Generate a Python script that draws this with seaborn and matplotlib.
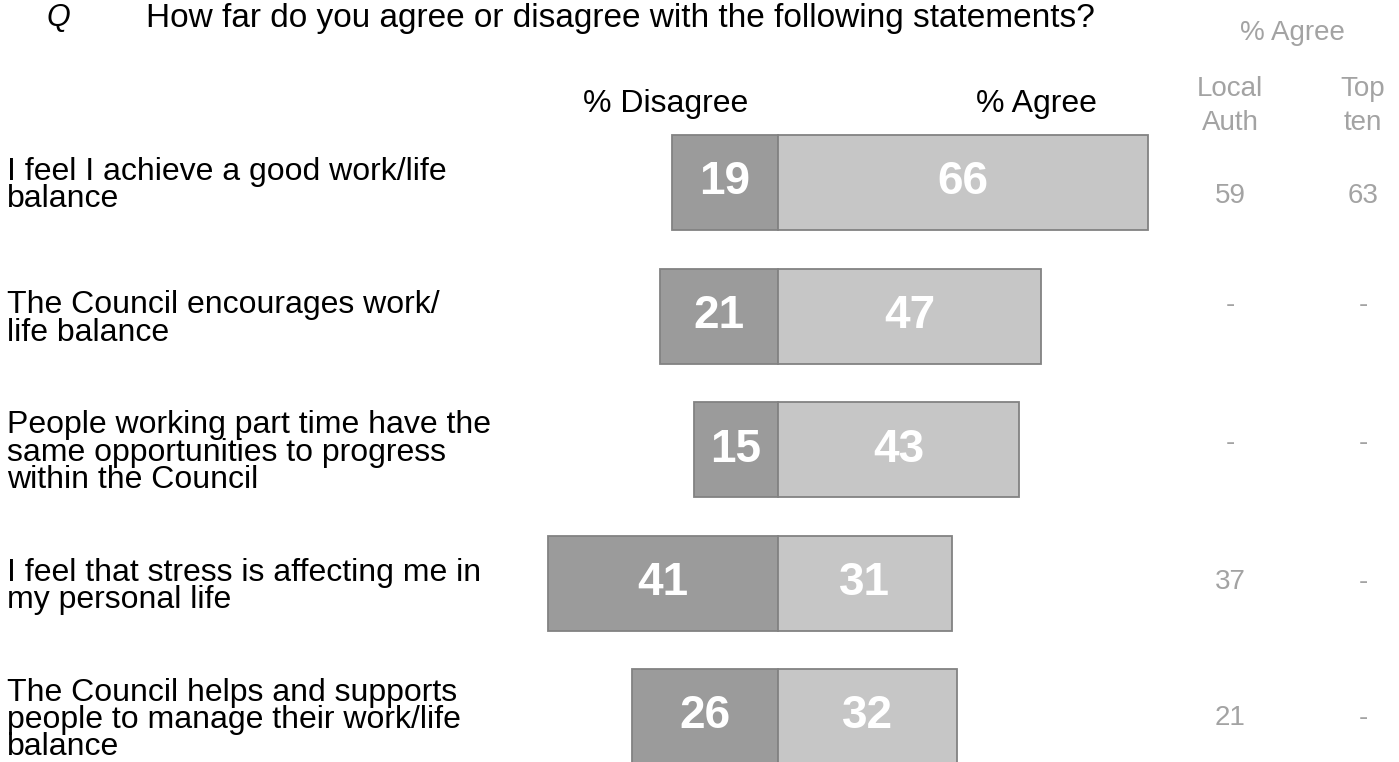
import pandas as pd
import numpy as np
import matplotlib
matplotlib.use("Agg")
import matplotlib.pyplot as plt
import seaborn as sns

statements = [
    "I feel I achieve a good work/life\nbalance",
    "The Council encourages work/\nlife balance",
    "People working part time have the\nsame opportunities to progress\nwithin the Council",
    "I feel that stress is affecting me in\nmy personal life",
    "The Council helps and supports\npeople to manage their work/life\nbalance",
]
disagree = [19, 21, 15, 41, 26]
agree = [66, 47, 43, 31, 32]
local_auth = ["59", "-", "-", "37", "21"]
top_ten = ["63", "-", "-", "-", "-"]

DARK = "#9b9b9b"
LIGHT = "#c6c6c6"
EDGE = "#828282"
GREY_TXT = "#a3a3a3"

sns.set_style("white")
plt.rcParams["font.family"] = ["Liberation Sans", "DejaVu Sans"]
plt.rcParams["text.color"] = "black"

W, H = 1399, 762
fig = plt.figure(figsize=(W / 100, H / 100), dpi=100)
ax = fig.add_axes([0, 0, 1, 1])

df = pd.DataFrame({
    "statement": statements * 2,
    "value": [-d for d in disagree] + agree,
    "side": ["Disagree"] * len(statements) + ["Agree"] * len(statements),
})

sns.barplot(
    data=df, x="value", y="statement", hue="side", orient="h",
    palette={"Disagree": DARK, "Agree": LIGHT}, dodge=False, width=0.71,
    edgecolor=EDGE, linewidth=1.3, legend=False, ax=ax,
)

# numbers inside the bars
for cont, vals in zip(ax.containers, [disagree, agree]):
    ax.bar_label(cont, labels=[str(v) for v in vals], label_type="center",
                 color="white", fontsize=33, fontweight="bold")

# scales chosen so 1 point = 5.6 px, zero line at x=778 px
px_per_unit = 5.6
center_px = 778
ax.set_xlim(-center_px / px_per_unit, (W - center_px) / px_per_unit)
row0, row_gap = 182.5, 133.6
ax.set_ylim((H - row0) / row_gap, -row0 / row_gap)
ax.axis("off")

ytr = ax.get_yaxis_transform()
label_shift = 3 / row_gap
for i, s in enumerate(statements):
    ax.text(7 / W, i + label_shift, s, transform=ytr, ha="left", va="center",
            fontsize=23, linespacing=0.88)


def fy(py):
    return 1 - py / H


# comparison columns sit on their own table rows
side_rows_px = [196, 305, 443, 582, 718]
for la, tt, py in zip(local_auth, top_ten, side_rows_px):
    fig.text(1230 / W, fy(py), la, ha="center", va="center", fontsize=20,
             color=GREY_TXT)
    fig.text(1363 / W, fy(py), tt, ha="center", va="center", fontsize=20,
             color=GREY_TXT)

fig.text(58 / W, fy(18), "Q", ha="center", va="center", fontsize=22,
         style="italic")
fig.text(146 / W, fy(18),
         "How far do you agree or disagree with the following statements?",
         ha="left", va="center", fontsize=24)
fig.text(1292 / W, fy(33), "% Agree", ha="center", va="center",
         fontsize=20, color=GREY_TXT)
fig.text(666 / W, fy(104), "% Disagree", ha="center", va="center",
         fontsize=23)
fig.text(1036 / W, fy(104), "% Agree", ha="center", va="center",
         fontsize=23)
fig.text(1230 / W, fy(106), "Local\nAuth", ha="center", va="center",
         fontsize=20, color=GREY_TXT, linespacing=1.38)
fig.text(1363 / W, fy(106), "Top\nten", ha="center", va="center",
         fontsize=20, color=GREY_TXT, linespacing=1.38)

fig.savefig("out.png", dpi=100, facecolor="white")
